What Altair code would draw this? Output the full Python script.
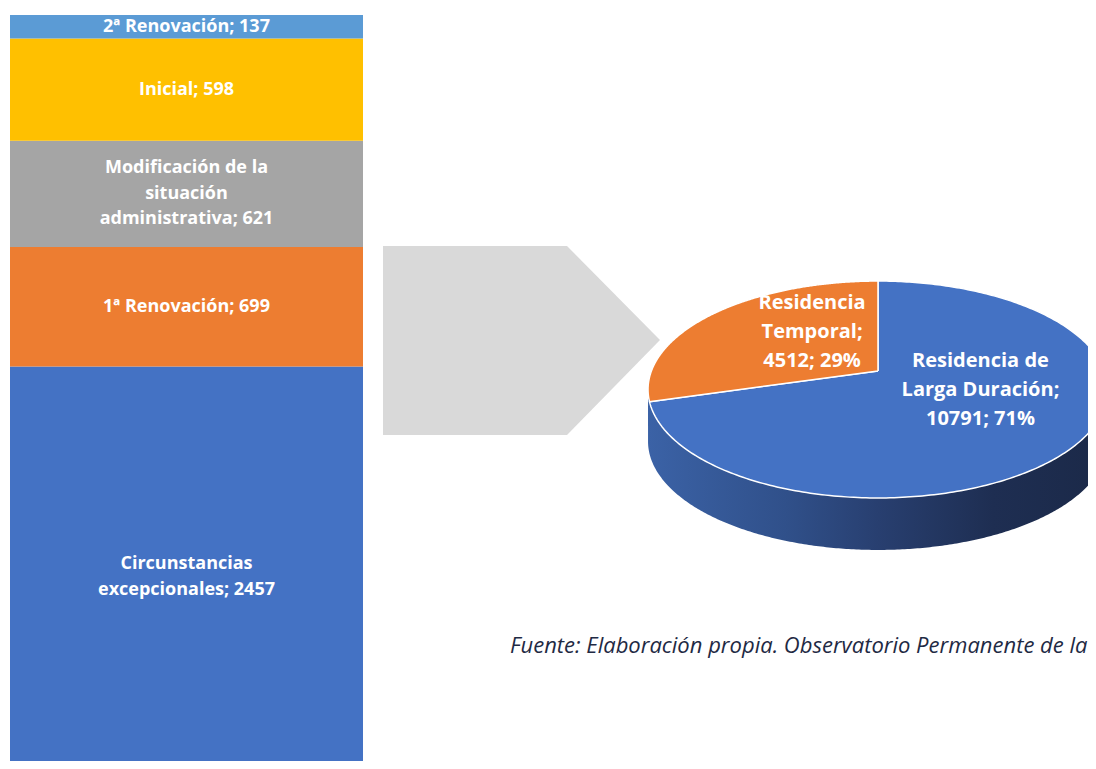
import textwrap
import numpy as np
import pandas as pd
import altair as alt

# ---------------- data ----------------
bar_group = "Residencia Temporal"
bar_categories = [
    "Circunstancias excepcionales",
    "1ª Renovación",
    "Modificación de la situación administrativa",
    "Inicial",
    "2ª Renovación",
]
bar_values = [2457, 699, 621, 598, 137]

pie_categories = ["Residencia de Larga Duración", "Residencia Temporal"]
pie_values = [10791, 4512]

footer_text = "Fuente: Elaboración propia. Observatorio Permanente de la Inmigración"

# ---------------- styles / layout ----------------
bar_colors = ["#4472C4", "#ED7D31", "#A5A5A5", "#FFC000", "#5B9BD5"]
pie_colors = ["#4472C4", "#ED7D31"]
FONT = "Open Sans"
BAR_W = 353
PANEL_H = 746          # visible plot height (page is cropped)
BAR_FULL = 772         # pixel length of the full stacked bar
PIE_W = 705
BAR_FS, BAR_LH = 18, 25.5
PIE_FS, PIE_LH = 20, 29
# pie geometry in pixels of the right panel (perspective-projected disc)
CX, CY = 495, 356
R, A, K = 226.6, 105.3, 0.1705
DEPTH = 52
pie_wrap = [15, 12]
pie_label_f = [0.5, 0.45]
pie_label_dx = [7, 12]
pie_label_dy = [-14, -12]
# grey arrow (panel pixels)
arrow_x = [0, 184, 277]
arrow_top = [231, 231, 325]
arrow_bot = [420, 420, 325]
footer_pos = (127, 638)


def proj(t_deg, f=1.0):
    t = np.radians(t_deg)
    X = f * np.cos(t)
    Z = f * np.sin(t)
    s = 1.0 / (1.0 + K * Z)
    return CX + R * X * s, CY - A * Z * s


# ---------------- left: stacked bar ----------------
units_per_px = sum(bar_values) / BAR_FULL
bar_labels = ["\n".join(textwrap.wrap(f"{c}; {v}", 20)) for c, v in zip(bar_categories, bar_values)]
bar_df = pd.DataFrame({
    "grupo": bar_group,
    "categoria": bar_categories,
    "valor": bar_values,
    "orden": list(range(len(bar_categories))),
    "etiqueta": bar_labels,
    # shift so that the whole multi-line block is centred on the segment
    "ajuste": [(lbl.count("\n")) / 2 * BAR_LH * units_per_px for lbl in bar_labels],
})

bar_base = alt.Chart(bar_df).transform_stack(
    stack="valor", as_=["y0", "y1"], groupby=["grupo"],
    sort=[alt.SortField("orden", order="ascending")],
).transform_calculate(ytext="(datum.y0 + datum.y1) / 2 + datum.ajuste")

xb = alt.X("grupo:N", axis=None, scale=alt.Scale(paddingInner=0, paddingOuter=0))
yscale = alt.Scale(nice=False, zero=True, range=[BAR_FULL, 0])

bars = bar_base.mark_bar(clip=True).encode(
    x=xb,
    y=alt.Y("y0:Q", scale=yscale, axis=None),
    y2="y1:Q",
    color=alt.Color("categoria:N", scale=alt.Scale(domain=bar_categories, range=bar_colors), legend=None),
)
bar_text = bar_base.mark_text(
    font=FONT, fontSize=BAR_FS, fontWeight="bold", color="white",
    lineBreak="\n", lineHeight=BAR_LH, align="center", baseline="middle", clip=True,
).encode(x=xb, y=alt.Y("ytext:Q", scale=yscale, axis=None), text="etiqueta:N")

left = (bars + bar_text).properties(width=BAR_W, height=PANEL_H)

# ---------------- right: arrow + 3D pie ----------------
xs = alt.Scale(domain=[0, PIE_W], nice=False, zero=False)
ys = alt.Scale(domain=[0, PANEL_H], nice=False, zero=False, reverse=True)

arrow_df = pd.DataFrame({"u": arrow_x, "v": arrow_top, "v2": arrow_bot})
arrow = alt.Chart(arrow_df).mark_area(color="#D9D9D9").encode(
    x=alt.X("u:Q", scale=xs, axis=None),
    y=alt.Y("v:Q", scale=ys, axis=None),
    y2="v2:Q",
)

total = sum(pie_values)
fracs = [v / total for v in pie_values]
cum = np.concatenate([[0], np.cumsum(fracs)])

# side of the disc (front half, extruded)
tL = 180 + np.degrees(np.arcsin(K))
tR = 360 - np.degrees(np.arcsin(K))
ts = np.linspace(tL, tR, 300)
su, sv = proj(ts)
side_df = pd.DataFrame({"u": su, "v": sv, "v2": sv + DEPTH})
side = alt.Chart(side_df).mark_area(
    clip=True,
    color=alt.Gradient(
        gradient="linear", x1=0, x2=1, y1=0, y2=0,
        stops=[
            alt.GradientStop(color="#3B62A6", offset=0),
            alt.GradientStop(color="#30508A", offset=0.3),
            alt.GradientStop(color="#283F70", offset=0.5),
            alt.GradientStop(color="#1E2E52", offset=0.75),
            alt.GradientStop(color="#1B2948", offset=1),
        ],
    ),
).encode(
    x=alt.X("u:Q", scale=xs, axis=None),
    y=alt.Y("v:Q", scale=ys, axis=None),
    y2="v2:Q",
)

wedge_layers = []
label_rows = []
for i, (cat, val) in enumerate(zip(pie_categories, pie_values)):
    t0 = 90 - 360 * cum[i]
    t1 = 90 - 360 * cum[i + 1]
    tt = np.linspace(t0, t1, 300)
    au, av = proj(tt)
    u = np.concatenate([[CX], au, [CX]])
    v = np.concatenate([[CY], av, [CY]])
    wdf = pd.DataFrame({"u": u, "v": v, "i": np.arange(len(u))})
    wedge_layers.append(
        alt.Chart(wdf).mark_line(fill=pie_colors[i], stroke="white", strokeWidth=1.5,
                                 strokeJoin="round", clip=True).encode(
            x=alt.X("u:Q", scale=xs, axis=None),
            y=alt.Y("v:Q", scale=ys, axis=None),
            order="i:Q",
        )
    )
    pct = round(val / total * 100)
    lbl = "\n".join(textwrap.wrap(f"{cat}; {val}; {pct}%", pie_wrap[i]))
    mu, mv = proj((t0 + t1) / 2, pie_label_f[i])
    label_rows.append({
        "u": float(mu) + pie_label_dx[i],
        "v": float(mv) + pie_label_dy[i] - lbl.count("\n") / 2 * PIE_LH,
        "etiqueta": lbl,
    })

pie_labels = alt.Chart(pd.DataFrame(label_rows)).mark_text(
    font=FONT, fontSize=PIE_FS, fontWeight="bold", color="white",
    lineBreak="\n", lineHeight=PIE_LH, align="center", baseline="middle",
).encode(
    x=alt.X("u:Q", scale=xs, axis=None),
    y=alt.Y("v:Q", scale=ys, axis=None),
    text="etiqueta:N",
)

footer = alt.Chart(pd.DataFrame({"u": [footer_pos[0]], "v": [footer_pos[1]], "t": [footer_text]})).mark_text(
    font=FONT, fontSize=22, fontStyle="italic", color="#1F2A44", align="left",
    baseline="alphabetic", clip=True,
).encode(
    x=alt.X("u:Q", scale=xs, axis=None),
    y=alt.Y("v:Q", scale=ys, axis=None),
    text="t:N",
)

right = alt.layer(arrow, side, *wedge_layers, pie_labels, footer).properties(width=PIE_W, height=PANEL_H)

chart = alt.hconcat(left, right, spacing=20).properties(
    padding={"left": 2, "top": 7, "right": 0, "bottom": 0},
    background="white",
).configure_view(strokeWidth=0)

chart.save("out.html", embed_options={"renderer": "svg", "actions": False})
